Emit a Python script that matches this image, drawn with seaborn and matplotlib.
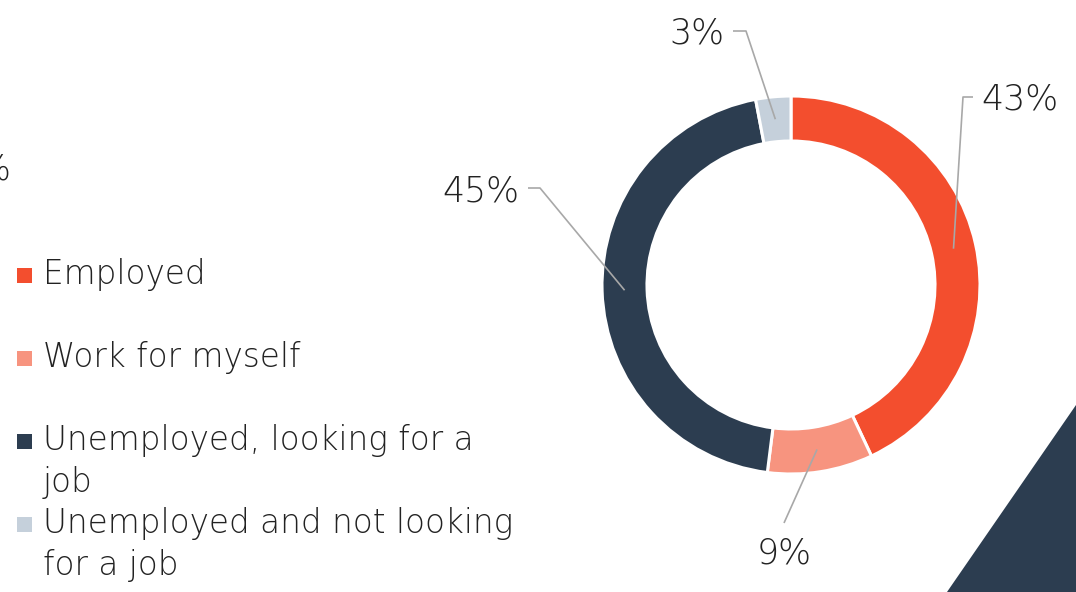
import numpy as np
import matplotlib.pyplot as plt
import seaborn as sns
from matplotlib.patches import Rectangle, Polygon

# Data
legend_lines = [['Employed'],
                ['Work for myself'],
                ['Unemployed, looking for a', 'job'],
                ['Unemployed and not looking', 'for a job']]
shares = [43, 9, 45, 3]
pct_labels = ['43%', '9%', '45%', '3%']
colors = ['#F34E2E', '#F7947F', '#2C3D50', '#C5D0DB']

sns.set_theme(style='white')
plt.rcParams['font.family'] = ['DejaVu Sans']
text_col = '#222222'
line_col = '#A8A8A8'

W, H = 1076, 592
fig = plt.figure(figsize=(W / 100, H / 100), dpi=100)
ax = fig.add_axes([0, 0, 1, 1])

# donut (pixel coordinates, y up)
cx, cy, R, ring = 791, 285, 189, 45
wedges, _ = ax.pie(shares, colors=colors, startangle=90, counterclock=False,
                   radius=R, center=(cx, H - cy),
                   wedgeprops=dict(width=ring, edgecolor='white', linewidth=2.2))
ax.set_xlim(0, W)
ax.set_ylim(0, H)
ax.axis('off')

# leader lines: (bend point, line end, text pos, ha) in y-down pixels
leaders = [
    ((963, 97), (973, 97), (981, 110), 'left'),
    (None, (784, 523), (784, 563), 'center'),
    ((540, 188), (528, 188), (519, 201), 'right'),
    ((746, 31), (733, 31), (724, 43), 'right'),
]
for w, lab, (bend, end, tpos, ha) in zip(wedges, pct_labels, leaders):
    mid = np.deg2rad((w.theta1 + w.theta2) / 2)
    r = R - ring / 2
    x0 = cx + r * np.cos(mid)
    y0 = (H - cy) + r * np.sin(mid)
    pts = [(x0, y0)]
    if bend is not None:
        pts.append((bend[0], H - bend[1]))
    pts.append((end[0], H - end[1]))
    xs, ys = zip(*pts)
    ax.plot(xs, ys, color=line_col, lw=1.2, solid_capstyle='butt')
    ax.text(tpos[0], H - tpos[1], lab, ha=ha, va='baseline', fontsize=25,
            fontweight='light', color=text_col)

# legend drawn by hand
base0, step, lead = 284, 83, 42
for i, (lines, c) in enumerate(zip(legend_lines, colors)):
    b = base0 + step * i
    ax.add_patch(Rectangle((17, H - b + 1), 15, 15, color=c, lw=0))
    for j, t in enumerate(lines):
        ax.text(43, H - (b + lead * j), t, ha='left', va='baseline',
                fontsize=23.5, fontweight='light', color=text_col)

# cut-off text at left edge
ax.text(11, H - 180, '%', ha='right', va='baseline', fontsize=25,
        fontweight='light', color=text_col)

# decorative triangle
ax.add_patch(Polygon([(947, 0), (1076, H - 405), (1076, 0)], closed=True,
                     color='#2C3D50', lw=0))

fig.savefig('out.png', dpi=100)
